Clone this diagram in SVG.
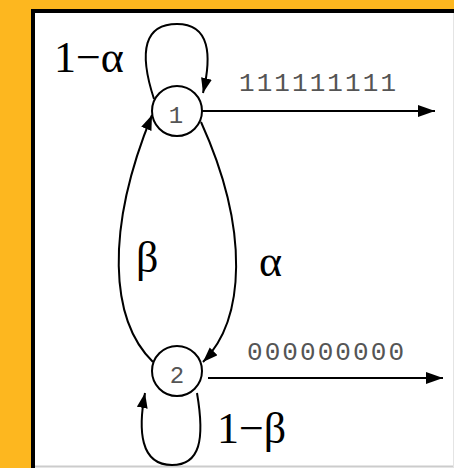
<svg xmlns="http://www.w3.org/2000/svg" width="454" height="468" viewBox="0 0 454 468">
<defs>
<style>
.edge{fill:none;stroke:#000;stroke-width:2}
.node{fill:#fff;stroke:#000;stroke-width:2}
.nlab{font-family:"Liberation Mono",monospace;font-size:24px;fill:#555;text-anchor:middle}
.math{font-family:"Liberation Serif","Times New Roman",serif;font-size:44px;fill:#000}
.bits{font-family:"Liberation Mono",monospace;font-size:26px;fill:#555}
</style>
<marker id="ah" markerUnits="userSpaceOnUse" markerWidth="18" markerHeight="12" refX="17" refY="6" orient="auto">
<path d="M0,0 L17,6 L0,12 z" fill="#000"/>
</marker>
<marker id="ahs" markerUnits="userSpaceOnUse" markerWidth="16" markerHeight="12" refX="15" refY="5.5" orient="auto">
<path d="M0,0 L15,5.5 L0,11 z" fill="#000"/>
</marker>
</defs>
<rect x="0" y="0" width="454" height="468" fill="#FDB71F"/>
<rect x="35" y="13" width="419" height="455" fill="#fff"/>
<path d="M33 468 V11 H454" fill="none" stroke="#000" stroke-width="4"/>
<line x1="35" y1="466.5" x2="454" y2="466.5" stroke="#ccc" stroke-width="2"/>
<line x1="453.5" y1="13" x2="453.5" y2="468" stroke="#e4e4e4" stroke-width="1"/>
<g id="connectors">
<path class="edge" d="M154 99 C138 50 145 24 177 24 C210 24 212 55 203 93" marker-end="url(#ahs)"/>
<path class="edge" d="M201 122 C250 230 245 320 203 362" marker-end="url(#ahs)"/>
<path class="edge" d="M153 362 C110 320 105 230 152 115" marker-end="url(#ahs)"/>
<path class="edge" d="M197 393 C205 440 200 465 172 465 C140 465 138 430 145 393" marker-end="url(#ahs)"/>
<line class="edge" x1="202" y1="111" x2="435" y2="111" marker-end="url(#ah)"/>
<line class="edge" x1="208" y1="378" x2="443" y2="378" marker-end="url(#ah)"/>
</g>
<g id="node1">
<circle class="node" cx="177" cy="111" r="25"/>
<text class="nlab" x="176" y="123">1</text>
</g>
<g id="node2">
<circle class="node" cx="177" cy="371" r="25"/>
<text class="nlab" x="177" y="383">2</text>
</g>
<g id="labels">
<text class="math" x="54" y="72">1−α</text>
<text class="math" x="136" y="272">β</text>
<text class="math" x="259" y="276">α</text>
<text class="math" x="217" y="443">1−β</text>
<text class="bits" x="239" y="91" textLength="157" lengthAdjust="spacing">111111111</text>
<text class="bits" x="247" y="360" textLength="157" lengthAdjust="spacing">000000000</text>
</g>
</svg>
